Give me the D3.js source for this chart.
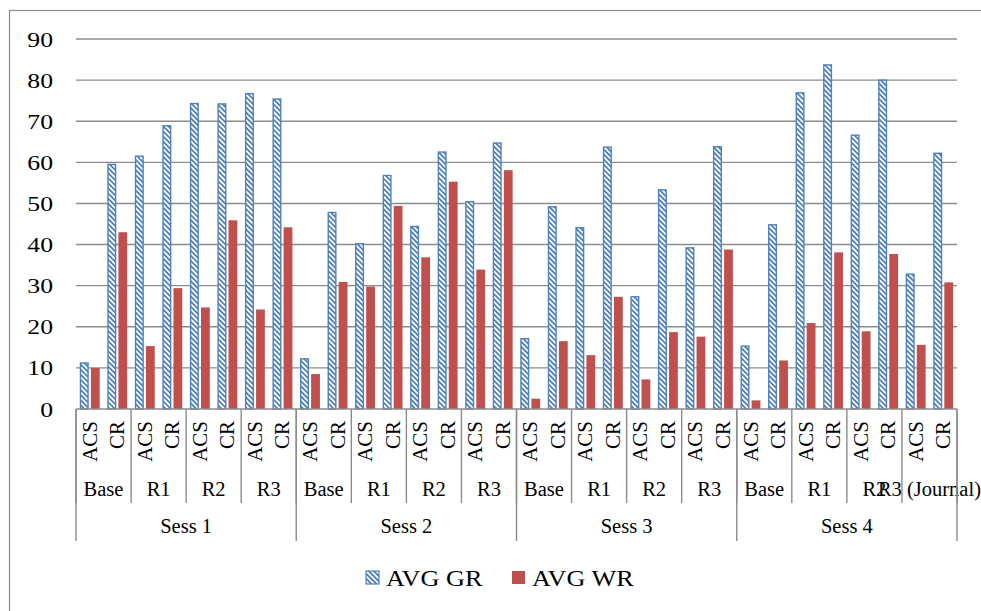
<!DOCTYPE html>
<html><head><meta charset="utf-8">
<script src="https://cdn.jsdelivr.net/npm/d3@7"></script>
<style>html,body{margin:0;padding:0;background:#fff;}svg{display:block;}
svg text{font-family:'Liberation Serif','Times New Roman','DejaVu Serif',serif;fill:#000;}</style>
</head><body>
<svg id="c" width="981" height="611"></svg>
<script>
const sessions = ["Sess 1","Sess 2","Sess 3","Sess 4"];
const rounds = [
  ["Base","R1","R2","R3"],
  ["Base","R1","R2","R3"],
  ["Base","R1","R2","R3"],
  ["Base","R1","R2","R3 (Journal)"]
];
const types = ["ACS","CR"];
const avgGR = [
  11.2, 59.5, 61.5, 68.9, 74.3, 74.2, 76.7, 75.4,
  12.2, 47.8, 40.2, 56.8, 44.4, 62.5, 50.4, 64.7,
  17.1, 49.2, 44.1, 63.7, 27.3, 53.3, 39.2, 63.8,
  15.3, 44.8, 76.9, 83.7, 66.6, 80.0, 32.8, 62.2
];
const avgWR = [
  10.0, 43.0, 15.3, 29.4, 24.7, 45.9, 24.2, 44.2,
   8.5, 30.9, 29.8, 49.4, 36.9, 55.3, 33.9, 58.1,
   2.5, 16.5, 13.1, 27.3,  7.2, 18.7, 17.6, 38.8,
   2.1, 11.8, 20.9, 38.1, 18.9, 37.7, 15.6, 30.8
];
const yTicks = [0,10,20,30,40,50,60,70,80,90];
const seriesNames = ["AVG GR","AVG WR"];

const cats = [];
sessions.forEach((s,si)=>rounds[si].forEach((r,ri)=>types.forEach((t,ti)=>{
  cats.push({id:`${si}-${ri}-${ti}`, sess:s, si, round:r, ri, type:t, gr:avgGR[cats.length], wr:avgWR[cats.length]});
})));

const blue = "#4F81BD", red = "#C0504D", grid = "#8c8c8c";
const svg = d3.select("#c");

svg.append("rect").attr("x",9.5).attr("y",10.5).attr("width",1000).attr("height",700)
  .attr("fill","none").attr("stroke","#8c8c8c").attr("stroke-width",1.2);

const defs = svg.append("defs");
const pat = defs.append("pattern").attr("id","diag").attr("patternUnits","userSpaceOnUse")
  .attr("width",3.6).attr("height",3.6).attr("patternTransform","rotate(-45)");
pat.append("rect").attr("width",3.6).attr("height",3.6).attr("fill","#fff");
pat.append("rect").attr("width",1.8).attr("height",3.6).attr("fill",blue);

const x0 = 76, x1 = 957, yBase = 409, yTop = 39;
const x = d3.scaleBand().domain(cats.map(d=>d.id)).range([x0,x1]).paddingInner(0).paddingOuter(0);
const y = d3.scaleLinear().domain([0,90]).range([yBase,yTop]);
const sub = d3.scaleBand().domain(["gr","wr"]).range([0,x.bandwidth()]).paddingInner(0.2).paddingOuter(0.35);

svg.append("g").selectAll("line").data(yTicks.filter(t=>t>0)).join("line")
  .attr("x1",x0).attr("x2",x1).attr("y1",d=>y(d)).attr("y2",d=>y(d))
  .attr("stroke",grid).attr("stroke-width",1.4);

svg.append("g").selectAll("text").data(yTicks).join("text")
  .attr("transform",d=>`translate(53,${y(d)+7.5}) scale(1.17,1)`)
  .attr("text-anchor","end").attr("font-size",22).text(d=>d);

const bars = svg.append("g");
bars.selectAll("rect.gr").data(cats).join("rect").attr("class","gr")
  .attr("x",d=>x(d.id)+sub("gr")+0.6).attr("width",sub.bandwidth()-1.2)
  .attr("y",d=>y(d.gr)).attr("height",d=>yBase-y(d.gr))
  .attr("fill","url(#diag)").attr("stroke",blue).attr("stroke-width",1.4);
bars.selectAll("rect.wr").data(cats).join("rect").attr("class","wr")
  .attr("x",d=>x(d.id)+sub("wr")).attr("width",sub.bandwidth())
  .attr("y",d=>y(d.wr)).attr("height",d=>yBase-y(d.wr))
  .attr("fill",red);

svg.append("line").attr("x1",x0).attr("x2",x1).attr("y1",yBase).attr("y2",yBase)
  .attr("stroke",grid).attr("stroke-width",1.4);

const ax = svg.append("g");
ax.selectAll("text.t").data(cats).join("text").attr("class","t")
  .attr("transform",d=>`translate(${x(d.id)+x.bandwidth()/2+7},421) rotate(-90)`)
  .attr("text-anchor","end").attr("font-size",21).text(d=>d.type);

const roundGroups = [];
for(let i=0;i<cats.length;i+=2) roundGroups.push({label:cats[i].round, a:x(cats[i].id), b:x(cats[i+1].id)+x.bandwidth()});
ax.selectAll("text.r").data(roundGroups).join("text").attr("class","r")
  .attr("x",d=>(d.a+d.b)/2).attr("y",496).attr("text-anchor","middle")
  .attr("font-size",20.5).text(d=>d.label);

const sessGroups = sessions.map((s,si)=>{
  const c = cats.filter(d=>d.si===si);
  return {label:s, a:x(c[0].id), b:x(c[c.length-1].id)+x.bandwidth()};
});
ax.selectAll("text.s").data(sessGroups).join("text").attr("class","s")
  .attr("x",d=>(d.a+d.b)/2).attr("y",533).attr("text-anchor","middle")
  .attr("font-size",20.5).text(d=>d.label);

const roundEdges = roundGroups.map(d=>d.a).concat([x1]);
ax.selectAll("line.rl").data(roundEdges).join("line").attr("class","rl")
  .attr("x1",d=>d).attr("x2",d=>d).attr("y1",yBase).attr("y2",503)
  .attr("stroke",grid).attr("stroke-width",1.4);
const sessEdges = sessGroups.map(d=>d.a).concat([x1]);
ax.selectAll("line.sl").data(sessEdges).join("line").attr("class","sl")
  .attr("x1",d=>d).attr("x2",d=>d).attr("y1",yBase).attr("y2",541)
  .attr("stroke",grid).attr("stroke-width",1.4);

const leg = svg.append("g");
const legItems = [{name:seriesNames[0], fill:"url(#diag)", stroke:blue, x:366, tx:386},
                  {name:seriesNames[1], fill:red, stroke:"none", x:512, tx:532}];
leg.selectAll("rect").data(legItems).join("rect")
  .attr("x",d=>d.x).attr("y",571).attr("width",13).attr("height",13)
  .attr("fill",d=>d.fill).attr("stroke",d=>d.stroke).attr("stroke-width",1.2);
leg.selectAll("text").data(legItems).join("text")
  .attr("transform",d=>`translate(${d.tx},586) scale(1.14,1)`).attr("font-size",23)
  .text(d=>d.name);
</script>
</body></html>
